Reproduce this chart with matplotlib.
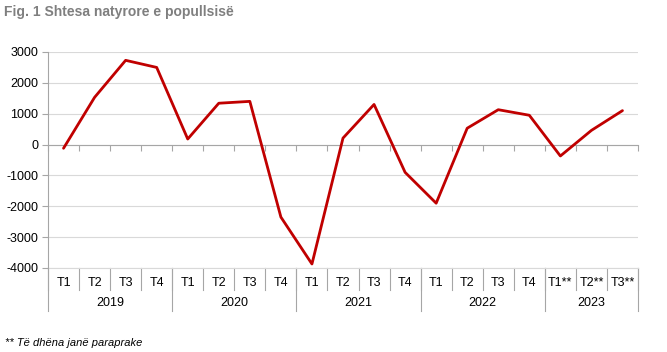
import matplotlib
matplotlib.use("Agg")

import matplotlib.pyplot as plt
import matplotlib.transforms as mtransforms

# -- data --
years = ["2019", "2020", "2021", "2022", "2023"]
quarters = ["T1", "T2", "T3", "T4",
            "T1", "T2", "T3", "T4",
            "T1", "T2", "T3", "T4",
            "T1", "T2", "T3", "T4",
            "T1**", "T2**", "T3**"]
quarters_per_year = [4, 4, 4, 4, 3]
values = [-120, 1530, 2730, 2500,
          180, 1340, 1400, -2350,
          -3870, 210, 1300, -900,
          -1900, 530, 1130, 950,
          -370, 460, 1100]

plt.rcParams["font.family"] = ["Liberation Sans", "DejaVu Sans"]
plt.rcParams["axes.unicode_minus"] = False

GRID = "#d9d9d9"
AXIS = "#a6a6a6"
LINE = "#c00000"

fig = plt.figure(figsize=(6.67, 3.52), dpi=100)
ax = fig.add_axes([48 / 667, 1 - 268 / 352, 590 / 667, 216 / 352])

n = len(values)
xs = [i + 0.5 for i in range(n)]
ax.plot(xs, values, color=LINE, linewidth=2.0, solid_capstyle="round",
        solid_joinstyle="round", zorder=3)

ax.set_xlim(0, n)
ax.set_ylim(-4000, 3000)
ax.set_yticks(range(-4000, 3001, 1000))
ax.yaxis.grid(True, color=GRID, linewidth=0.8)
ax.set_axisbelow(True)

for side in ("top", "right"):
    ax.spines[side].set_visible(False)
ax.spines["left"].set_color(AXIS)
ax.spines["bottom"].set_position(("data", 0))
ax.spines["bottom"].set_color(AXIS)

ax.set_xticks(range(0, n + 1))
ax.tick_params(axis="x", direction="out", length=4, color=AXIS, labelbottom=False)
ax.tick_params(axis="y", direction="out", length=4, color=AXIS, labelsize=9,
               labelcolor="black", pad=3)

# category labels under the plot
trans = mtransforms.blended_transform_factory(ax.transData, ax.transAxes)
for i, q in enumerate(quarters):
    ax.text(i + 0.5, -0.069, q, transform=trans, ha="center", va="center",
            fontsize=9)
for i in range(n + 1):
    ax.plot([i, i], [0, -0.102], transform=trans, color=AXIS, linewidth=0.8,
            clip_on=False)

start = 0
for y, k in zip(years, quarters_per_year):
    ax.text(start + k / 2, -0.162, y, transform=trans, ha="center",
            va="center", fontsize=9)
    ax.plot([start, start], [0, -0.199], transform=trans, color=AXIS,
            linewidth=0.8, clip_on=False)
    start += k
ax.plot([start, start], [0, -0.199], transform=trans, color=AXIS,
        linewidth=0.8, clip_on=False)
ax.plot([0, n], [0, 0], transform=trans, color=GRID, linewidth=0.8,
        clip_on=False)

fig.text(4 / 667, 1 - 12 / 352, "Fig. 1 Shtesa natyrore e popullsisë",
         fontsize=10, fontweight="bold", color="#7f7f7f", va="center",
         ha="left")
fig.text(5 / 667, 1 - 343 / 352, "** Të dhëna janë paraprake",
         fontsize=8, style="italic", color="black", va="center", ha="left")

fig.savefig("out.png", dpi=100)
